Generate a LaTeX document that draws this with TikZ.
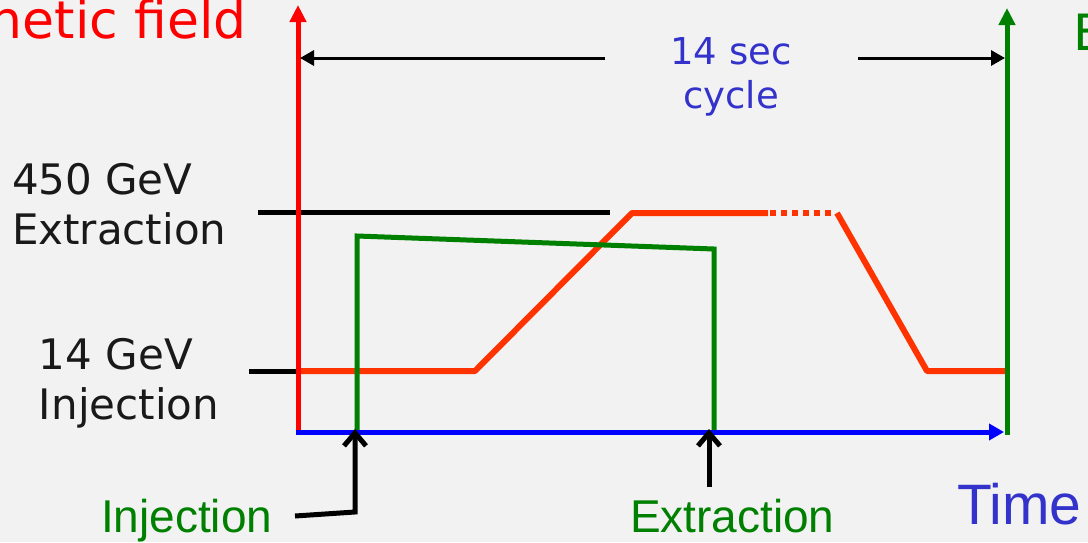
\documentclass[tikz,border=0pt]{standalone}
\usepackage{fontspec}
\setmainfont{DejaVu Sans}
\newfontfamily\arialf{Liberation Sans}
\usetikzlibrary{arrows.meta}
\definecolor{bg}{HTML}{F2F2F2}
\definecolor{fieldred}{HTML}{FF0000}
\definecolor{cycorange}{HTML}{FF3300}
\definecolor{beamgreen}{HTML}{008000}
\definecolor{axisblue}{HTML}{0000FF}
\definecolor{txtblue}{HTML}{3333CC}
\begin{document}
\begin{tikzpicture}[x=0.5pt,y=-0.5pt,
  lbl/.style={inner sep=0pt, outer sep=0pt},
  axisline/.style={line width=2.5pt, -{Triangle[length=8.5pt,width=8pt]}},
  tickline/.style={line width=2.5pt, black},
  cyclepath/.style={line width=3pt, cycorange, line join=bevel},
  beampath/.style={line width=2.5pt, beamgreen},
  dimline/.style={line width=1.5pt, black, -{Triangle[length=7pt,width=7.5pt]}},
  pointer/.style={line width=2.5pt, black, line join=miter, -{Straight Barb[length=6.5pt,width=11pt]}}
]
\fill[bg] (0,0) rectangle (1088,542);
\useasboundingbox (0,0) rectangle (1088,542);

% coordinates
\coordinate (O) at (298,432);
\coordinate (Ytop) at (298,5);
\coordinate (Xend) at (1004,432);
\coordinate (G0) at (1007,435);
\coordinate (Gtop) at (1007,8);
\coordinate (t450a) at (258,212);
\coordinate (t450b) at (610,212);
\coordinate (t14a) at (249,371);
\coordinate (t14b) at (298,371);
\coordinate (c1) at (475,371);
\coordinate (c2) at (632,213);
\coordinate (c3) at (768,213);
\coordinate (c4) at (770,213);
\coordinate (c5) at (832,213);
\coordinate (c6) at (837,213);
\coordinate (c7) at (927,371);
\coordinate (c8) at (1005,371);
\coordinate (b0) at (357,432);
\coordinate (b1) at (357,236);
\coordinate (b2) at (714,249);
\coordinate (b3) at (714,432);
\coordinate (dL0) at (605,58);
\coordinate (dL1) at (300,58);
\coordinate (dR0) at (858,58);
\coordinate (dR1) at (1005,58);
\coordinate (pi0) at (295,516);
\coordinate (pi1) at (355,512);
\coordinate (pi2) at (355,429);
\coordinate (pe0) at (709,487);
\coordinate (pe1) at (709,429);

% labels
\node[lbl, anchor=base east, text=fieldred, font=\fontsize{26}{30}\selectfont] (mf) at (247,38) {Magnetic field};
\node[lbl, anchor=base west, text=beamgreen, font=\fontsize{25}{29}\selectfont] (bi) at (1073,50) {Beam intensity};
\node[lbl, anchor=north, align=center, text=txtblue, font=\fontsize{18.5}{22}\selectfont] (cyc) at (731,38) {14 sec\\cycle};
\node[lbl, anchor=north west, align=left, font=\fontsize{21}{25}\selectfont, text={black!90}] (ext) at (12,163) {450 GeV\\Extraction};
\node[lbl, anchor=north west, align=left, font=\fontsize{21}{25}\selectfont, text={black!90}] (inj) at (39,338) {14 GeV\\Injection};
\node[lbl, anchor=base west, text=beamgreen, font=\arialf\fontsize{23}{27}\selectfont] (linj) at (101,532) {Injection};
\node[lbl, anchor=base west, text=beamgreen, font=\arialf\fontsize{23}{27}\selectfont] (lext) at (630,532) {Extraction};
\node[lbl, anchor=base west, text=txtblue, font=\arialf\fontsize{28.5}{32}\selectfont] (ltime) at (957,524) {Time};

% ticks
\draw[tickline] (t450a) -- (t450b);
\draw[tickline] (t14a) -- (t14b);

% magnetic cycle
\draw[cyclepath] (t14b) -- (c1) -- (c2) -- (c3);
\draw[cyclepath, dash pattern=on 2.75pt off 2.75pt] (c4) -- (c5);
\draw[cyclepath] (c6) -- (c7) -- (c8);

% beam
\draw[beampath] (b0) -- (b1) -- (b2) -- (b3);

% axes
\draw[axisline, fieldred] (O) -- (Ytop);
\draw[axisline, axisblue, -{Triangle[length=7.5pt,width=8pt]}] ([xshift=-1.25pt]O) -- (Xend);
\draw[axisline, beamgreen] (G0) -- (Gtop);

% cycle dimension
\draw[dimline] (dL0) -- (dL1);
\draw[dimline] (dR0) -- (dR1);

% pointers
\draw[pointer] (pi0) -- (pi1) -- (pi2);
\draw[pointer] (pe0) -- (pe1);
\end{tikzpicture}
\end{document}
